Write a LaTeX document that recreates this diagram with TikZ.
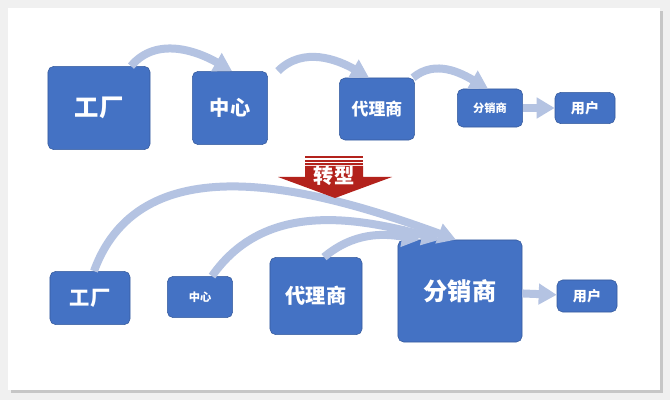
\documentclass[tikz,border=0pt]{standalone}
\usepackage{fontspec}
\newfontfamily\cjk{Noto Sans CJK SC}
\usetikzlibrary{arrows.meta}
\definecolor{boxblue}{HTML}{4472C4}
\definecolor{flowblue}{HTML}{B4C3E2}
\definecolor{turnred}{HTML}{B3221C}
\begin{document}
\begin{tikzpicture}[x=0.025cm,y=-0.025cm]

% Styles
\tikzset{
  stage/.style={
    fill=boxblue,
    draw=boxblue!80!black,
    rounded corners=4pt,
    text=white,
    font=\cjk\bfseries,
    inner sep=0pt
  },
  flow/.style={
    draw=flowblue,
    line width=0.2cm,
    -{Triangle[length=0.45cm,width=0.5cm]}
  }
}

% Card
\useasboundingbox (0,0) rectangle (670,400);
\fill[gray!12] (0,0) rectangle (670,400);
\fill[gray!45] (11,11) rectangle (663,393);
\fill[white] (8,8) rectangle (660,390);

% Top row
\node[stage, minimum width=2.55cm, minimum height=2.08cm, font=\cjk\bfseries\LARGE] (fac1) at (99,108) {工厂};
\node[stage, minimum width=1.88cm, minimum height=1.83cm, font=\cjk\bfseries\Large] (ctr1) at (230,108) {中心};
\node[stage, minimum width=1.88cm, minimum height=1.55cm, font=\cjk\bfseries\large] (agt1) at (377,109) {代理商};
\node[stage, minimum width=1.63cm, minimum height=0.95cm, font=\cjk\bfseries\footnotesize] (dst1) at (490,108) {分销商};
\node[stage, minimum width=1.5cm, minimum height=0.78cm, font=\cjk\bfseries\normalsize] (usr1) at (585,108) {用户};

% Bottom row
\node[stage, minimum width=2cm, minimum height=1.33cm, font=\cjk\bfseries\Large] (fac2) at (90,298) {工厂};
\node[stage, minimum width=1.63cm, minimum height=1.03cm, font=\cjk\bfseries\footnotesize] (ctr2) at (200,297) {中心};
\node[stage, minimum width=2.3cm, minimum height=1.93cm, font=\cjk\bfseries\Large] (agt2) at (316,296) {代理商};
\node[stage, minimum width=3.1cm, minimum height=2.55cm, font=\cjk\bfseries\LARGE] (dst2) at (460,291) {分销商};
\node[stage, minimum width=1.5cm, minimum height=0.8cm, font=\cjk\bfseries\normalsize] (usr2) at (587,296) {用户};

% Top flows
\draw[flow] ([xshift=0.8cm]fac1.north) to[out=50, in=150] ([xshift=0.05cm]ctr1.north);
\draw[flow] ([xshift=1.2cm]ctr1.north) to[out=45, in=150] ([xshift=-0.2cm]agt1.north);
\draw[flow] ([xshift=0.9cm]agt1.north) to[out=40, in=150] ([xshift=-0.05cm]dst1.north);
\draw[flow] (dst1) -- (usr1);

% Bottom flows
\draw[flow] ([xshift=0.1cm]fac2.north) to[out=70, in=160] ([xshift=-0.1cm]dst2.north);
\draw[flow] ([xshift=0.3cm]ctr2.north) to[out=55, in=165] ([xshift=-0.5cm]dst2.north);
\draw[flow] ([xshift=0.2cm]agt2.north) to[out=40, in=170] ([xshift=-1cm]dst2.north);
\draw[flow] (dst2) -- (usr2);

% Turn arrow
\fill[turnred] (305,166) -- (363,166) -- (363,177) -- (392,177) -- (335,198) -- (278,177) -- (305,177) -- cycle;
\foreach \yy in {156,160,163} \fill[turnred] (305,\yy) rectangle (363,\yy+2);
\node[text=white, font=\cjk\bfseries\Large] (turn) at (334,176) {转型};

\end{tikzpicture}
\end{document}
